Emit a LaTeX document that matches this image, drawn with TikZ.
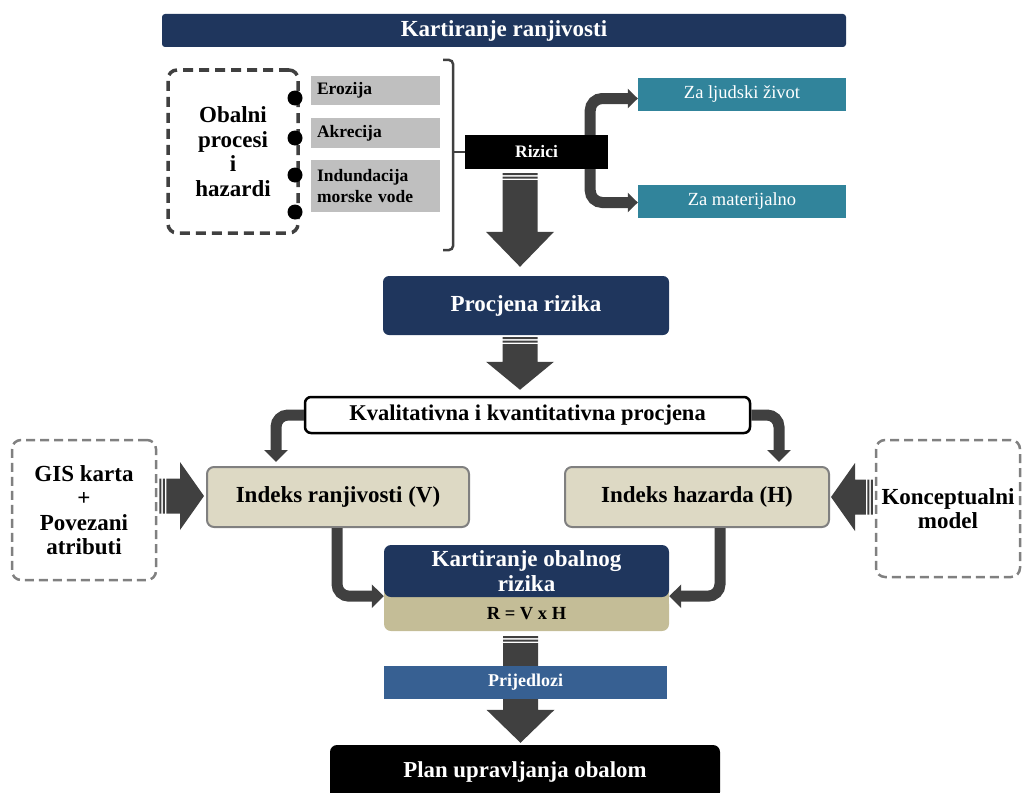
\documentclass[tikz,border=0pt]{standalone}
\usepackage{fontspec}
\setmainfont{Liberation Serif}
\usetikzlibrary{positioning,calc,arrows.meta}
\definecolor{navy}{RGB}{31,54,93}
\definecolor{tealbg}{RGB}{49,132,155}
\definecolor{itemgray}{RGB}{191,191,191}
\definecolor{arrowgray}{RGB}{64,64,64}
\definecolor{dashgray}{RGB}{128,128,128}
\definecolor{tanlight}{RGB}{221,217,196}
\definecolor{tandark}{RGB}{196,189,151}
\definecolor{propblue}{RGB}{55,96,146}
\tikzset{
    chart/.style={x=1pt,y=-1pt,>={Triangle[length=12pt,width=23pt]}},
    navybox/.style={rectangle, fill=navy, text=white, inner sep=0pt, align=center,
                    font=\bfseries\fontsize{23}{25}\selectfont},
    itembox/.style={rectangle, fill=itemgray, text width=117pt, minimum width=129pt,
                    inner xsep=6pt, inner ysep=0pt, align=left,
                    font=\bfseries\fontsize{17.5}{20.5}\selectfont},
    blackbox/.style={rectangle, fill=black, text=white, inner sep=0pt},
    tealbox/.style={rectangle, fill=tealbg, text=white, minimum width=208pt,
                    minimum height=33pt, inner sep=0pt, font=\fontsize{18.5}{21}\selectfont},
    indexbox/.style={rectangle, rounded corners=7pt, fill=tanlight, draw=dashgray,
                     line width=2pt, minimum height=60pt, inner sep=0pt,
                     font=\bfseries\fontsize{23}{25}\selectfont},
    obalnidash/.style={rectangle, rounded corners=9pt, draw=arrowgray, line width=3.5pt,
                       dash pattern=on 10pt off 6pt, align=center, inner sep=0pt,
                       font=\bfseries\fontsize{23}{24.5}\selectfont},
    sourcedash/.style={rectangle, rounded corners=9pt, draw=dashgray, line width=2.5pt,
                       dash pattern=on 9pt off 5pt, align=center, inner sep=0pt,
                       font=\bfseries\fontsize{23}{24.5}\selectfont},
    elbow/.style={->, draw=arrowgray, line width=11pt, rounded corners=12pt},
    brace/.style={draw=arrowgray, line width=2.5pt, rounded corners=4pt},
    blockfill/.style={fill=arrowgray},
    }
% thick block arrow with stripes at its tail: start, tip, head length
\newcommand\blockarrow[3]{%
    \coordinate (ba1) at ($(#1)!2pt!(#2)$);
    \coordinate (ba2) at ($(#1)!3.5pt!(#2)$);
    \coordinate (ba3) at ($(#1)!5.5pt!(#2)$);
    \coordinate (ba4) at ($(#1)!7pt!(#2)$);
    \coordinate (bah) at ($(#2)!#3!(#1)$);
    \fill[blockfill] ($(#1)!17.5pt!90:(#2)$) -- ($(#1)!17.5pt!-90:(#2)$)
        -- ($(ba1)!17.5pt!-90:(#2)$) -- ($(ba1)!17.5pt!90:(#2)$) -- cycle
        ($(ba2)!17.5pt!90:(#2)$) -- ($(ba2)!17.5pt!-90:(#2)$)
        -- ($(ba3)!17.5pt!-90:(#2)$) -- ($(ba3)!17.5pt!90:(#2)$) -- cycle
        ($(ba4)!17.5pt!90:(#2)$) -- ($(bah)!17.5pt!90:(#2)$) -- ($(bah)!34pt!90:(#2)$)
        -- (#2) -- ($(bah)!34pt!-90:(#2)$) -- ($(bah)!17.5pt!-90:(#2)$)
        -- ($(ba4)!17.5pt!-90:(#2)$) -- cycle;
}

\begin{document}
\begin{tikzpicture}[chart]
    \useasboundingbox (0,0) rectangle (1022,792);

    \node[navybox, minimum width=684pt, minimum height=33pt, rounded corners=3pt] (title) at (504,30.5) {Kartiranje ranjivosti};

    \node[obalnidash, minimum width=130pt, minimum height=163pt] (obalni) at (233,151.5) {Obalni\\procesi\\i\\hazardi};
    \node[itembox, minimum height=29pt] (erozija) at (375.5,90.5) {Erozija};
    \node[itembox, minimum height=30pt] (akrecija) at (375.5,133) {Akrecija};
    \node[itembox, minimum height=52pt] (indund) at (375.5,186) {Indundacija\\morske vode};
    \foreach \y in {98,138,175,212}
        \fill (295,\y) circle (7.5pt);

    \node[blackbox, minimum width=143pt, minimum height=34pt, font=\bfseries\fontsize{17.5}{20}\selectfont] (rizici) at (536.5,152) {Rizici};
    \draw[brace] (443,60) -- (453,60) -- (453,250) -- (443,250);
    \draw[brace] (rizici.west) -- ++(-12,0);

    \node[tealbox] (zivot) at (742,94.5) {Za ljudski život};
    \node[tealbox] (materijal) at (742,201.5) {Za materijalno};
    \draw[elbow, -{Triangle[length=10pt,width=19pt]}] ([xshift=-18pt]rizici.north east) |- ([yshift=-4pt]zivot.west);
    \draw[elbow, -{Triangle[length=10pt,width=19pt]}] ([xshift=-18pt]rizici.south east) |- ([yshift=-1pt]materijal.west);

    \node[navybox, minimum width=286pt, minimum height=59pt, rounded corners=6pt] (procjena) at (526,305.5) {Procjena rizika};
    \coordinate (r1) at ($(rizici.south -| procjena.north)+(-6,4)$);
    \coordinate (r2) at ($(procjena.north)+(-6,-9)$);
    \blockarrow{r1}{r2}{35pt}

    \node[rectangle, fill=white, draw=black, line width=2.5pt, rounded corners=6pt,
          minimum width=445pt, minimum height=36pt, inner sep=0pt,
          font=\bfseries\fontsize{22.5}{25}\selectfont] (kvalit) at (527.5,415) {Kvalitativna i kvantitativna procjena};
    \coordinate (p1) at ($(procjena.south)+(-6,2)$);
    \coordinate (p2) at ($(p1 |- kvalit.north)+(0,-6)$);
    \blockarrow{p1}{p2}{28pt}

    \node[indexbox, minimum width=262pt] (ranj) at (338,497) {Indeks ranjivosti (V)};
    \node[indexbox, minimum width=264pt] (haz) at (697,497) {Indeks hazarda (H)};
    \draw[elbow, shorten >=4pt] (kvalit.west) -| ([xshift=-62pt]ranj.north);
    \draw[elbow, shorten >=4pt] (kvalit.east) -| ([xshift=82pt]haz.north);

    \node[sourcedash, minimum width=144pt, minimum height=140pt] (gis) at (84,510) {GIS karta\\+\\Povezani\\atributi};
    \node[sourcedash, minimum width=144pt, minimum height=137pt] (konc) at (948,508.5) {Konceptualni\\model};
    \coordinate (g1) at ($(gis.east |- ranj.west)+(2,-1)$);
    \coordinate (g2) at ($(ranj.west)+(-2,-1)$);
    \blockarrow{g1}{g2}{24pt}
    \coordinate (k1) at ($(konc.west |- haz.east)+(-2,0)$);
    \coordinate (k2) at ($(haz.east)+(1,0)$);
    \blockarrow{k1}{k2}{24pt}

    % coastal risk map
    \node[rectangle, fill=tandark, rounded corners=7pt, minimum width=285pt, minimum height=34pt,
          inner sep=0pt, font=\bfseries\fontsize{18.5}{20}\selectfont] (rvh) at (526.5,614) {R = V x H};
    \fill[tandark] ([yshift=-8pt]rvh.north west) rectangle ([yshift=12pt]rvh.north east);
    \node[navybox, minimum width=285pt, minimum height=52pt, rounded corners=7pt] (kartor) at (526.5,571) {Kartiranje obalnog\\rizika};
    \draw[elbow] ([xshift=-1pt]ranj.south) |- ([yshift=1pt]kartor.south west);
    \draw[elbow] ([xshift=23pt]haz.south) |- ([yshift=1pt]kartor.south east);

    \node[rectangle, fill=black, text=white, rounded corners=7pt, minimum width=390pt,
          minimum height=54pt, inner sep=0pt, font=\bfseries\fontsize{22.8}{25}\selectfont] (plan) at (525,772) {\raisebox{4pt}{Plan upravljanja obalom}};
    \coordinate (v1) at ($(rvh.south)+(-6,5)$);
    \coordinate (v2) at ($(v1 |- plan.north)+(0,-2)$);
    \blockarrow{v1}{v2}{33pt}
    \node[rectangle, fill=propblue, text=white, minimum width=283pt, minimum height=33pt,
          inner sep=0pt, font=\bfseries\fontsize{18}{20}\selectfont] (prijedlozi) at (525.5,682.5) {Prijedlozi};
\end{tikzpicture}
\end{document}
